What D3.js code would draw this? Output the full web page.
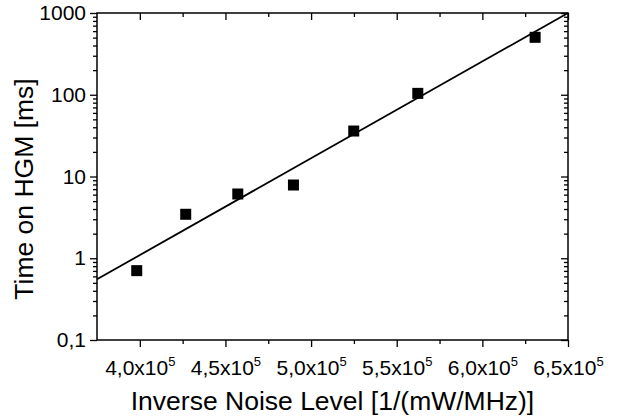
<!DOCTYPE html>
<html>
<head>
<meta charset="utf-8">
<script src="https://cdn.jsdelivr.net/npm/d3@7"></script>
<style>
  body { margin: 0; background: #fff; }
  svg { display: block; }
  .axis text { font-family: "Liberation Sans", Arial, sans-serif; fill: #000; }
  .axis line { stroke: #000; stroke-width: 1.3; }
</style>
</head>
<body>
<svg id="chart"></svg>
<script>
const width = 619
const height = 420

// data
var noise = [3.982e5, 4.268e5, 4.572e5, 4.897e5, 5.249e5, 5.623e5, 6.308e5]
var hgmTime = [0.705, 3.45, 6.11, 7.87, 36.0, 104, 504]
// fitted line end points
var fitX = [3.75e5, 6.5e5]
var fitY = [0.553, 1000]

var xTicks = [4.0e5, 4.5e5, 5.0e5, 5.5e5, 6.0e5, 6.5e5]
var xTickLabels = ["4,0", "4,5", "5,0", "5,5", "6,0", "6,5"]
var xMinor = [4.25e5, 4.75e5, 5.25e5, 5.75e5, 6.25e5]
var yTicks = [0.1, 1, 10, 100, 1000]
var yTickLabels = ["0,1", "1", "10", "100", "1000"]

var margin = {left: 97, right: 51, top: 13, bottom: 80}
var svg = d3.select("#chart").attr("width", width).attr("height", height)

var x = d3.scaleLinear()
    .domain([3.75e5, 6.5e5])
    .range([margin.left, width - margin.right])

var y = d3.scaleLog()
    .domain([0.1, 1000])
    .range([height - margin.bottom, margin.top])

var yMinor = []
for (let p = -1; p < 3; p++) {
    for (let k = 2; k < 10; k++) yMinor.push(k * Math.pow(10, p))
}

function styleAxis(g) {
    g.select(".domain").remove()
}

// bottom axis, ticks out
svg.append("g").attr("class", "axis")
    .attr("transform", "translate(0," + y.range()[0] + ")")
    .call(d3.axisBottom(x).tickValues(xMinor).tickSize(4).tickFormat(""))
    .call(styleAxis)
var xb = svg.append("g").attr("class", "axis")
    .attr("transform", "translate(0," + y.range()[0] + ")")
    .call(d3.axisBottom(x).tickValues(xTicks).tickSize(7).tickFormat(""))
    .call(styleAxis)

xb.selectAll(".tick").append("text")
    .attr("y", 35)
    .attr("text-anchor", "middle")
    .style("font-size", "21px")
    .each(function(d, i) {
        var t = d3.select(this)
        t.append("tspan").text(xTickLabels[i] + "x10")
        t.append("tspan").attr("dy", -9).style("font-size", "13px").text("5")
    })

// top axis, ticks in
svg.append("g").attr("class", "axis")
    .attr("transform", "translate(0," + margin.top + ")")
    .call(d3.axisBottom(x).tickValues(xMinor).tickSize(4).tickFormat(""))
    .call(styleAxis)
svg.append("g").attr("class", "axis")
    .attr("transform", "translate(0," + margin.top + ")")
    .call(d3.axisBottom(x).tickValues(xTicks).tickSize(7).tickFormat(""))
    .call(styleAxis)

// left axis, ticks out
svg.append("g").attr("class", "axis")
    .attr("transform", "translate(" + margin.left + ",0)")
    .call(d3.axisLeft(y).tickValues(yMinor).tickSize(4).tickFormat(""))
    .call(styleAxis)
svg.append("g").attr("class", "axis")
    .attr("transform", "translate(" + margin.left + ",0)")
    .call(d3.axisLeft(y).tickValues(yTicks).tickSize(7).tickPadding(4)
        .tickFormat(function(d, i) { return yTickLabels[i] }))
    .call(styleAxis)
    .selectAll("text").style("font-size", "21px")

// right axis, ticks in
var xr = x.range()[1]
svg.append("g").attr("class", "axis")
    .attr("transform", "translate(" + xr + ",0)")
    .call(d3.axisLeft(y).tickValues(yMinor).tickSize(4).tickFormat(""))
    .call(styleAxis)
svg.append("g").attr("class", "axis")
    .attr("transform", "translate(" + xr + ",0)")
    .call(d3.axisLeft(y).tickValues(yTicks).tickSize(7).tickFormat(""))
    .call(styleAxis)

// frame
svg.append("rect")
    .attr("x", margin.left)
    .attr("y", margin.top)
    .attr("width", xr - margin.left)
    .attr("height", y.range()[0] - margin.top)
    .attr("fill", "none")
    .attr("stroke", "#000")
    .attr("stroke-width", 1.5)

// fit line
var fitLine = d3.line()
    .x(function(d, i) { return x(fitX[i]) })
    .y(function(d, i) { return y(fitY[i]) })
svg.append("path")
    .datum(fitX)
    .attr("d", fitLine)
    .attr("fill", "none")
    .attr("stroke", "#000")
    .attr("stroke-width", 1.8)

// square markers
var ms = 11
svg.selectAll(".pt")
    .data(noise)
    .enter()
    .append("rect")
    .attr("class", "pt")
    .attr("x", function(d) { return x(d) - ms / 2 })
    .attr("y", function(d, i) { return y(hgmTime[i]) - ms / 2 })
    .attr("width", ms)
    .attr("height", ms)
    .attr("fill", "#000")

// axis titles
svg.append("text")
    .attr("x", (margin.left + xr) / 2)
    .attr("y", 410)
    .attr("text-anchor", "middle")
    .style("font-family", "Liberation Sans, Arial, sans-serif")
    .style("font-size", "26.5px")
    .text("Inverse Noise Level [1/(mW/MHz)]")

svg.append("text")
    .attr("transform", "translate(33,189)rotate(-90)")
    .attr("text-anchor", "middle")
    .style("font-family", "Liberation Sans, Arial, sans-serif")
    .style("font-size", "26.5px")
    .text("Time on HGM [ms]")
</script>
</body>
</html>
